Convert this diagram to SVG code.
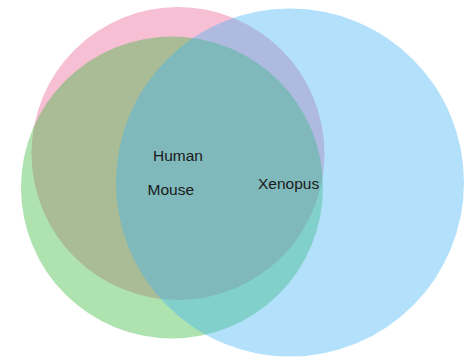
<svg xmlns="http://www.w3.org/2000/svg" width="473" height="358" viewBox="0 0 473 358">
<style>
.set{opacity:0.4}
.lbl{font-family:"Liberation Sans",Arial,sans-serif;font-size:15.5px;fill:#1a1a1a}
</style>
<rect width="473" height="358" fill="#ffffff"/>
<g id="human"><circle class="set" cx="178" cy="153.5" r="146.5" fill="#ea5e90"/></g>
<g id="mouse"><circle class="set" cx="172" cy="187.5" r="151" fill="#35b93a"/></g>
<g id="xenopus"><circle class="set" cx="290" cy="182.5" r="174" fill="#41b4f5"/></g>
<g id="labels">
<text class="lbl" x="153" y="161">Human</text>
<text class="lbl" x="147.5" y="195">Mouse</text>
<text class="lbl" x="258" y="188.5">Xenopus</text>
</g>
</svg>
